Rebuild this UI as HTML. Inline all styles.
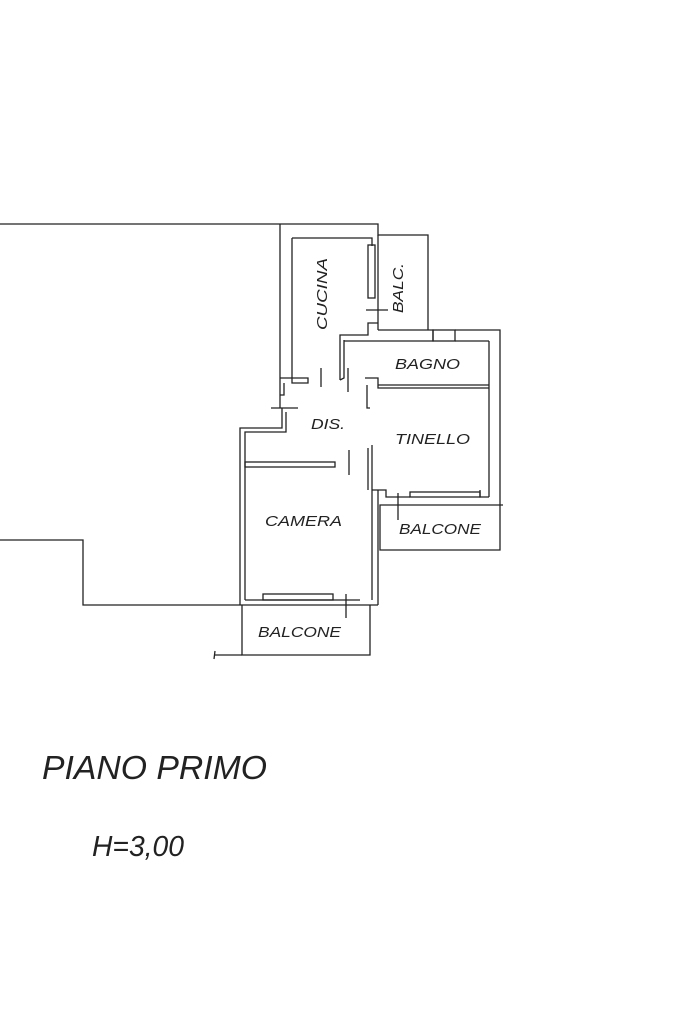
<!DOCTYPE html>
<html><head><meta charset="utf-8"><style>html,body{margin:0;padding:0;background:#fff}svg{display:block}</style></head>
<body>
<svg width="683" height="1025" viewBox="0 0 683 1025" xmlns="http://www.w3.org/2000/svg" font-family="Liberation Sans, sans-serif" font-style="italic" fill="#222">
<g stroke="#222" stroke-width="1.3" fill="none">
<!-- top outer -->
<polyline points="0,224 378,224 378,235 428,235 428,330"/>
<!-- left thick wall -->
<line x1="280" y1="224" x2="280" y2="408"/>
<polyline points="292,238 372,238 372,246"/>
<line x1="292" y1="238" x2="292" y2="378"/>
<polyline points="280,378 292,378 292,383 308,383 308,378 292,378"/>
<polyline points="284,383 284,395 280,395"/>
<line x1="271" y1="408" x2="298" y2="408"/>
<polyline points="282,408 282,428 240,428 240,605"/>
<polyline points="286,412 286,432 245,432 245,600"/>
<!-- cucina right / window -->
<rect x="368" y="245" width="7" height="53"/>
<line x1="378" y1="235" x2="378" y2="330"/>
<line x1="366" y1="310" x2="388" y2="310"/>
<polyline points="378,323 368,323 368,335 340,335 340,380"/>
<polyline points="344,340 344,378 340,380"/>
<line x1="321" y1="368" x2="321" y2="387"/>
<line x1="348" y1="368" x2="348" y2="392"/>
<!-- bagno -->
<polyline points="378,330 433,330 433,341 344,341"/>
<rect x="433" y="330" width="22" height="11"/>
<polyline points="455,330 500,330 500,550 380,550 380,505 503,505"/>
<line x1="455" y1="341" x2="489" y2="341"/>
<line x1="489" y1="341" x2="489" y2="497"/>
<polyline points="365,378 378,378 378,388 489,388"/>
<line x1="378" y1="385" x2="489" y2="385"/>
<polyline points="367,385 367,408 370,408"/>
<!-- tinello bottom -->
<line x1="368" y1="448" x2="368" y2="490"/>
<line x1="372" y1="445" x2="372" y2="490"/>
<polyline points="372,490 386,490 386,497 410,497"/>
<rect x="410" y="492" width="70" height="5"/>
<polyline points="480,490 480,497 489,497"/>
<line x1="398" y1="493" x2="398" y2="520"/>
<line x1="349" y1="450" x2="349" y2="475"/>
<!-- camera -->
<rect x="245" y="462" width="90" height="5"/>
<line x1="372" y1="490" x2="372" y2="600"/>
<line x1="378" y1="490" x2="378" y2="605"/>
<rect x="263" y="594" width="70" height="6"/>
<line x1="245" y1="600" x2="360" y2="600"/>
<line x1="346" y1="594" x2="346" y2="618"/>
<!-- bottom left -->
<polyline points="0,540 83,540 83,605 378,605"/>
<polyline points="242,605 242,655 370,655 370,605"/>
<line x1="215" y1="655" x2="242" y2="655"/>
<line x1="215" y1="651" x2="214" y2="659"/>
</g>
<g font-size="15">
<text x="0" y="0" transform="translate(327,330) rotate(-90)" textLength="72" lengthAdjust="spacingAndGlyphs">CUCINA</text>
<text x="0" y="0" transform="translate(403,313) rotate(-90)" textLength="50" lengthAdjust="spacingAndGlyphs">BALC.</text>
<text x="395" y="369" textLength="65" lengthAdjust="spacingAndGlyphs">BAGNO</text>
<text x="311" y="429" textLength="34" lengthAdjust="spacingAndGlyphs">DIS.</text>
<text x="395" y="444" textLength="75" lengthAdjust="spacingAndGlyphs">TINELLO</text>
<text x="265" y="526" textLength="77" lengthAdjust="spacingAndGlyphs">CAMERA</text>
<text x="399" y="534" textLength="82" lengthAdjust="spacingAndGlyphs">BALCONE</text>
<text x="258" y="637" textLength="83" lengthAdjust="spacingAndGlyphs">BALCONE</text>
</g>
<text x="42" y="779" font-size="33" textLength="225" lengthAdjust="spacingAndGlyphs">PIANO PRIMO</text>
<text x="92" y="856" font-size="29" textLength="92" lengthAdjust="spacingAndGlyphs">H=3,00</text>
</svg>
</body></html>
